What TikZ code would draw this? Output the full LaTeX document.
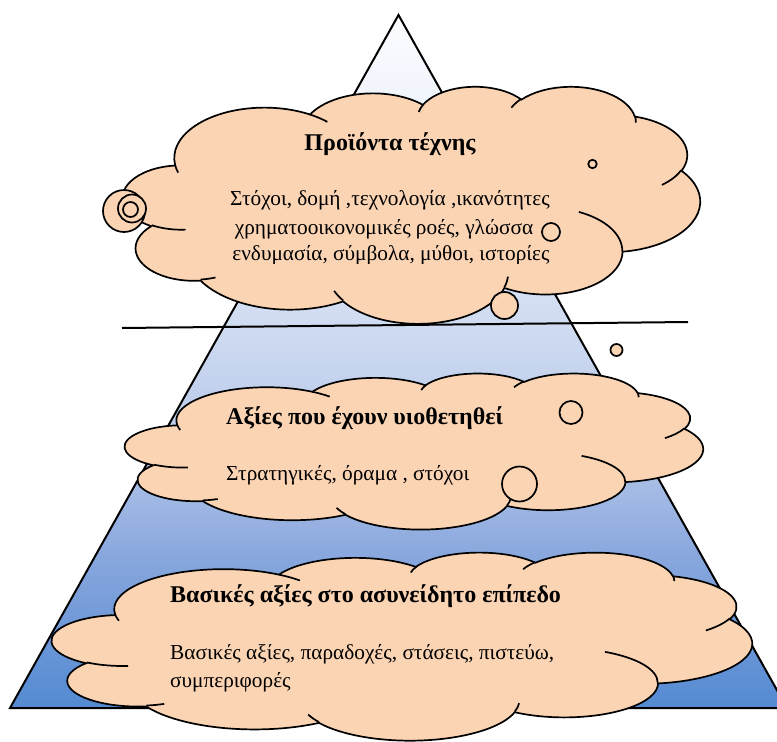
\documentclass[tikz,border=0pt]{standalone}
\usepackage{fontspec}
\setmainfont{Liberation Serif}

\definecolor{cloudfill}{HTML}{FBD4B4}
\definecolor{pyrA}{RGB}{84,138,210}
\definecolor{pyrB}{RGB}{135,166,221}
\definecolor{pyrC}{RGB}{180,198,233}
\definecolor{pyrD}{RGB}{207,219,241}
\definecolor{pyrE}{RGB}{252,253,255}

% bottom (25bp) to top (75bp) of the pyramid
\pgfdeclareverticalshading{pyramidfade}{100bp}{%
  color(0bp)=(pyrA); color(25bp)=(pyrA); color(35.7bp)=(pyrB);
  color(43.6bp)=(pyrC); color(52.3bp)=(pyrD); color(75bp)=(pyrE);
  color(100bp)=(pyrE)}

\makeatletter
% elliptic arc, radii #1 and #2, from direction angle #3 sweeping #4 degrees
\newcommand\cloudarc[4]{%
  \pgfmathsetmacro\cl@a{#3}%
  \pgfmathsetmacro\cl@b{#3+#4}%
  \pgfmathsetmacro\cl@s{\cl@a+mod(atan2(#1*sin(\cl@a),#2*cos(\cl@a))-\cl@a+540,360)-180}%
  \pgfmathsetmacro\cl@e{\cl@b+mod(atan2(#1*sin(\cl@b),#2*cos(\cl@b))-\cl@b+540,360)-180}%
  \pgfpatharc{\cl@s}{\cl@e}{#1pt and #2pt}%
}
\makeatother

% cloud outline in a 43.2 x 43.2 box
\newcommand\cloudoutline{%
  \pgfpathmoveto{\pgfpoint{3.9pt}{14.37pt}}%
  \cloudarc{6.753}{9.19}{-190.48748}{123.78053}%
  \cloudarc{5.333}{7.267}{-144.10238}{89.94523}%
  \cloudarc{4.365}{5.945}{-145.80792}{99.72302}%
  \cloudarc{4.857}{6.595}{-130.98607}{117.24173}%
  \cloudarc{5.333}{7.273}{-78.70888}{109.02692}%
  \cloudarc{6.775}{9.22}{-46.26725}{130.269}%
  \cloudarc{5.785}{7.867}{0.62502}{114.03333}%
  \cloudarc{6.752}{9.215}{22.4516}{115.17255}%
  \cloudarc{7.72}{10.543}{66.24263}{75.71102}%
  \cloudarc{4.36}{5.918}{-274.94208}{146.73557}%
  \cloudarc{4.345}{5.945}{-246.8285}{152.51885}%
  \pgfpathclose}

% the short inner creases between the puffs
\newcommand\cloudcreases{%
  \pgfpathmoveto{\pgfpoint{4.693pt}{26.177pt}}\cloudarc{4.345}{5.945}{86.742}{26.4295}%
  \pgfpathmoveto{\pgfpoint{6.928pt}{34.899pt}}\cloudarc{4.36}{5.918}{73.61047}{11.44747}%
  \pgfpathmoveto{\pgfpoint{16.478pt}{39.09pt}}\cloudarc{6.752}{9.215}{137.62415}{14.0811}%
  \pgfpathmoveto{\pgfpoint{28.827pt}{34.751pt}}\cloudarc{6.752}{9.215}{6.45327}{15.99835}%
  \pgfpathmoveto{\pgfpoint{34.129pt}{22.954pt}}\cloudarc{5.785}{7.867}{-70.29235}{70.91737}%
  \pgfpathmoveto{\pgfpoint{41.798pt}{15.354pt}}\cloudarc{5.333}{7.273}{30.31803}{27.7515}%
  \pgfpathmoveto{\pgfpoint{38.324pt}{5.426pt}}\cloudarc{4.857}{6.595}{-13.74433}{14.8589}%
  \pgfpathmoveto{\pgfpoint{29.078pt}{3.952pt}}\cloudarc{4.857}{6.595}{-149.18145}{18.19537}%
  \pgfpathmoveto{\pgfpoint{22.141pt}{4.72pt}}\cloudarc{4.365}{5.945}{-163.49427}{17.68635}%
  \pgfpathmoveto{\pgfpoint{14pt}{5.192pt}}\cloudarc{6.753}{9.19}{-66.70695}{12.31935}%
  \pgfpathmoveto{\pgfpoint{4.127pt}{15.789pt}}\cloudarc{6.753}{9.19}{157.65435}{11.85817}%
}

% \drawcloud{left}{top}{width}{height}
\newcommand\drawcloud[4]{%
  \begin{scope}[shift={(#1,#2)}, xscale=#3/43.2, yscale=#4/43.2]
    \pgfsetlinewidth{1.7pt}\pgfsetstrokecolor{black}\pgfsetfillcolor{cloudfill}%
    \cloudoutline\pgfusepath{fill,stroke}%
    \cloudcreases\pgfusepath{stroke}%
  \end{scope}}

\begin{document}
\begin{tikzpicture}[x=1pt, y=1pt, yscale=-1,
  edge/.style={draw=black, line width=2pt},
  bubble/.style={circle, draw=black, fill=cloudfill, line width=1.7pt, inner sep=0pt},
  headline/.style={font=\fontsize{24}{28}\selectfont\bfseries, inner sep=0pt},
  bodyline/.style={font=\fontsize{21.3}{25}\selectfont, inner sep=0pt}]
\useasboundingbox (0,0) rectangle (777,742);
\clip (0,0) rectangle (777,742);

% pyramid
\coordinate (apex) at (398.5,15);
\coordinate (baseL) at (10,708);
\coordinate (baseR) at (787,708);
\shade[shading=pyramidfade] (apex) -- (baseL) -- (baseR) -- cycle;
\draw[edge, line join=miter] (apex) -- (baseL) -- (baseR) -- cycle;

% dividing line
\coordinate (divL) at (122,328);
\coordinate (divR) at (688,322);
\draw[edge] (divL) -- (divR);

% upper cloud
\drawcloud{123}{86}{577}{237}
\node[bubble, minimum size=42pt] (u1) at (124,211) {};
\node[bubble, minimum size=28pt] (u2) at (132,208.5) {};
\node[bubble, minimum size=15pt] (u3) at (130.5,209.5) {};
\node[headline, anchor=mid] (uh) at (390,148) {Προϊόντα τέχνης};
\node[bodyline, anchor=mid] (ul1) at (390,203) {Στόχοι, δομή ,τεχνολογία ,ικανότητες};
\node[bodyline, anchor=mid] (ul2) at (384,232) {χρηματοοικονομικές ροές, γλώσσα};
\begin{scope}
  \clip (150,240) rectangle (650,263.5);
  \node[bodyline, anchor=mid] (ul3) at (391,258) {ενδυμασία, σύμβολα, μύθοι, ιστορίες};
\end{scope}

% middle cloud
\drawcloud{125}{373}{578}{156}
\node[bubble, minimum size=27pt] (m1) at (504.5,305.5) {};
\node[bubble, minimum size=18pt] (m2) at (551,232) {};
\node[bubble, minimum size=8.5pt] (m3) at (592.5,164) {};
\node[headline, anchor=mid west] (mh) at (226,422) {Αξίες που έχουν υιοθετηθεί};
\node[bodyline, anchor=mid west] (ml1) at (226,478) {Στρατηγικές, όραμα , στόχοι};

% lower cloud
\drawcloud{52}{552}{700}{188}
\node[bubble, minimum size=35pt] (l1) at (519.5,484) {};
\node[bubble, minimum size=23pt] (l2) at (571,412.5) {};
\node[bubble, minimum size=12pt] (l3) at (616.5,350) {};
\node[headline, anchor=mid west] (lh) at (170,600) {Βασικές αξίες στο ασυνείδητο επίπεδο};
\node[bodyline, anchor=mid west] (ll1) at (170,657) {Βασικές αξίες, παραδοχές, στάσεις, πιστεύω,};
\node[bodyline, anchor=mid west] (ll2) at (170,685) {συμπεριφορές};
\end{tikzpicture}
\end{document}
